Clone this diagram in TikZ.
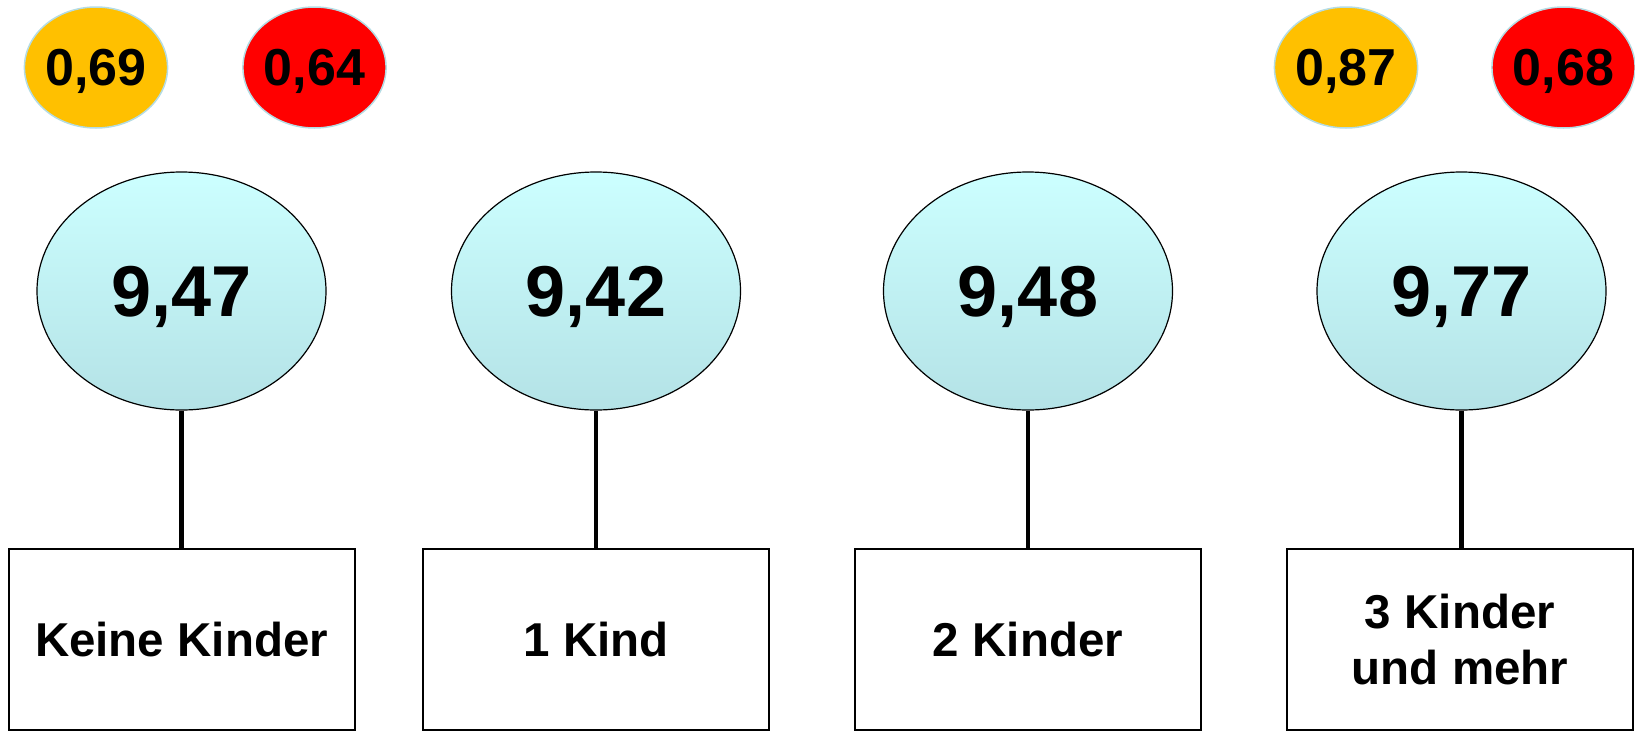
\documentclass[tikz,border=0pt]{standalone}
\usepackage{fontspec}
\setmainfont{Liberation Sans}
\usetikzlibrary{shapes.geometric}

\definecolor{gelb}{HTML}{FFC000}
\definecolor{rot}{HTML}{FF0000}
\definecolor{randblau}{HTML}{B4DCE4}
\definecolor{tuerkisoben}{HTML}{CCFFFF}
\definecolor{tuerkisunten}{HTML}{B4E2E6}

\tikzstyle{fehler} = [ellipse, draw=randblau, line width=1.5pt, inner sep=0pt,
                      minimum width=142pt, minimum height=121pt, text depth=0pt,
                      font=\fontsize{52}{60}\selectfont\bfseries]
\tikzstyle{mittel} = [ellipse, draw, line width=1.2pt, inner sep=0pt,
                      top color=tuerkisoben, bottom color=tuerkisunten,
                      minimum width=289pt, minimum height=238pt, text depth=0pt,
                      font=\fontsize{72}{80}\selectfont\bfseries]
\tikzstyle{gruppe} = [rectangle, draw, line width=2pt, align=center,
                      minimum width=346pt, minimum height=181pt,
                      font=\fontsize{47.5}{56}\selectfont\bfseries]
\tikzstyle{line} = [draw, line width=4.5pt]

\begin{document}
\begin{tikzpicture}[x=1pt, y=-1pt, node distance=348.5pt]
    \useasboundingbox (0,0) rectangle (1635,731);

    \node[mittel](MittelKeine) at (181.5,291){9,47};
    \node[mittel](MittelEins) at (596,291){9,42};
    \node[mittel](MittelZwei) at (1028,291){9,48};
    \node[mittel](MittelDrei) at (1461.5,291){9,77};

    \node[gruppe, below of=MittelKeine](KeineKinder){Keine Kinder};
    \node[gruppe, below of=MittelEins](EinKind){1 Kind};
    \node[gruppe, below of=MittelZwei](ZweiKinder){2 Kinder};
    \node[gruppe, below of=MittelDrei, xshift=-1.5pt]
            (DreiKinder){3 Kinder\\und mehr};

    \node[fehler, fill=gelb](GelbKeine) at (96,67.5){0,69};
    \node[fehler, fill=rot](RotKeine) at (314.5,67.5){0,64};
    \node[fehler, fill=gelb](GelbDrei) at (1346,67.5){0,87};
    \node[fehler, fill=rot](RotDrei) at (1563.5,67.5){0,68};

    \path[line](MittelKeine.south) -- (MittelKeine.south |- KeineKinder.north);
    \path[line](MittelEins.south) -- (MittelEins.south |- EinKind.north);
    \path[line](MittelZwei.south) -- (MittelZwei.south |- ZweiKinder.north);
    \path[line](MittelDrei.south) -- (MittelDrei.south |- DreiKinder.north);
\end{tikzpicture}
\end{document}
